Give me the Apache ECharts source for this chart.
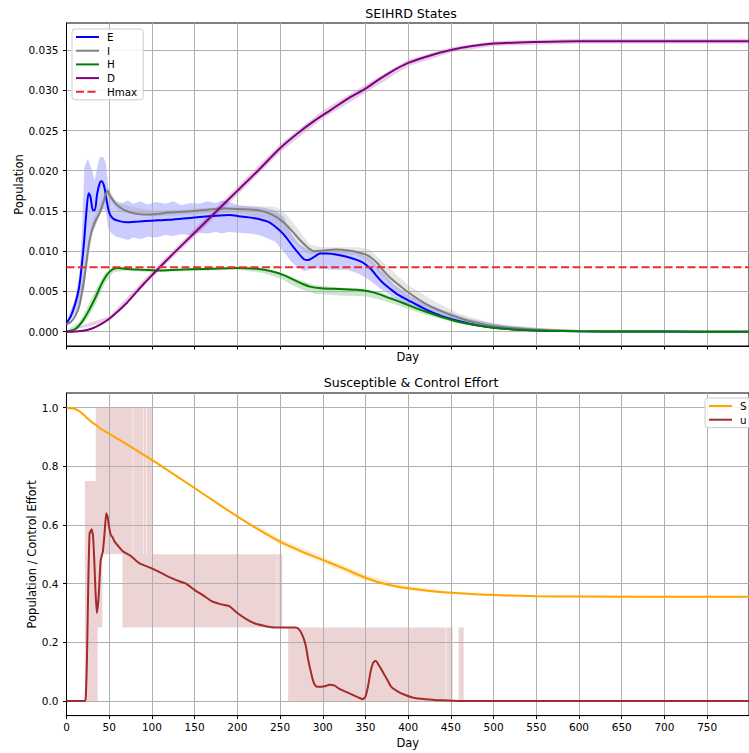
<!DOCTYPE html>
<html>
<head>
<meta charset="utf-8">
<script src="https://cdn.jsdelivr.net/npm/echarts@6/dist/echarts.min.js"></script>
<style>
  html, body { margin: 0; padding: 0; background: #ffffff; }
  #chart { width: 749px; height: 753px; }
</style>
</head>
<body>
<div id="chart"></div>
<script>
// ---------- SEIHRD states (mean trajectories) ----------
const eDays = [0, 5, 10, 15, 20, 23, 26, 28, 31, 33, 36, 39, 41, 44, 47, 50, 54, 60, 70, 85, 100, 120, 150, 175, 190, 205, 220, 235, 245, 255, 265, 272, 278, 283, 290, 297, 305, 320, 335, 345, 352, 358, 364, 370, 378, 388, 400, 420, 440, 460, 480, 500, 530, 560, 600, 650, 700, 799];
const eVals = [0.0011, 0.0019, 0.0034, 0.0057, 0.0105, 0.0145, 0.0172, 0.0168, 0.0151, 0.0151, 0.0172, 0.0185, 0.0187, 0.0181, 0.0163, 0.0148, 0.0141, 0.0138, 0.0136, 0.0137, 0.0138, 0.0139, 0.0142, 0.0144, 0.0145, 0.0143, 0.0141, 0.0137, 0.0130, 0.0120, 0.0106, 0.0097, 0.0090, 0.0089, 0.0093, 0.0097, 0.0097, 0.0095, 0.0091, 0.0087, 0.0082, 0.0076, 0.0068, 0.0061, 0.0054, 0.0046, 0.0039, 0.0028, 0.0019, 0.0013, 0.0008, 0.0005, 0.00025, 0.00012, 0.00005, 0.00002, 0.00001, 0];

const iDays = [0, 5, 10, 15, 20, 23, 26, 29, 32, 35, 39, 43, 46, 48, 51, 56, 62, 70, 80, 97, 120, 150, 186, 210, 225, 235, 245, 255, 265, 275, 283, 290, 300, 315, 330, 340, 350, 358, 364, 370, 378, 388, 400, 420, 440, 460, 480, 500, 530, 560, 600, 650, 700, 799];
const iVals = [0.0009, 0.0012, 0.0019, 0.0032, 0.0060, 0.0083, 0.0107, 0.0123, 0.0133, 0.0140, 0.0148, 0.0160, 0.0171, 0.0175, 0.0169, 0.0161, 0.0155, 0.0150, 0.0147, 0.01455, 0.0148, 0.0150, 0.0153, 0.0152, 0.0151, 0.0148, 0.0143, 0.0135, 0.0124, 0.0112, 0.0104, 0.0100, 0.0101, 0.0102, 0.0101, 0.0099, 0.0096, 0.0091, 0.0085, 0.0077, 0.0068, 0.0059, 0.0049, 0.0035, 0.0025, 0.0017, 0.0011, 0.0007, 0.0004, 0.0002, 0.00008, 0.00003, 0.00001, 0];

const hDays = [0, 5, 10, 15, 20, 25, 30, 35, 40, 45, 50, 55, 60, 70, 90, 110, 130, 160, 200, 225, 240, 255, 265, 275, 285, 298, 320, 340, 355, 365, 375, 388, 400, 420, 440, 460, 480, 500, 530, 560, 600, 650, 700, 799];
const hVals = [0, 0.0001, 0.0003, 0.0008, 0.0015, 0.0024, 0.0034, 0.0045, 0.0057, 0.0067, 0.0074, 0.0078, 0.0079, 0.0078, 0.0077, 0.0076, 0.0077, 0.0078, 0.0079, 0.0078, 0.0075, 0.0070, 0.0065, 0.0060, 0.0056, 0.0054, 0.0053, 0.0052, 0.0050, 0.0047, 0.0043, 0.0038, 0.0033, 0.0025, 0.0018, 0.0012, 0.0008, 0.0005, 0.00025, 0.00012, 0.00005, 0.00002, 0.00001, 0];

const dDays = [0, 10, 20, 30, 40, 50, 60, 70, 80, 90, 100, 110, 125, 150, 175, 200, 225, 250, 270, 290, 310, 330, 350, 365, 380, 400, 425, 450, 475, 500, 550, 600, 700, 799];
const dVals = [0, 0.00003, 0.00012, 0.0004, 0.0009, 0.0016, 0.0025, 0.0035, 0.0047, 0.0059, 0.0070, 0.0081, 0.0097, 0.0123, 0.0149, 0.0175, 0.0201, 0.0228, 0.0246, 0.0262, 0.0276, 0.0290, 0.0302, 0.0313, 0.0323, 0.0334, 0.0343, 0.0350, 0.0355, 0.0358, 0.0360, 0.0361, 0.0361, 0.0361];

const hmaxValue = 0.008;

// ---------- spread across runs (min / max envelopes) ----------
const eBandDays = [0, 10, 15, 18, 21, 25, 30, 33, 36, 39, 43, 46, 49, 53, 58, 65, 72, 78, 86, 95, 105, 116, 125, 135, 145, 155, 165, 175, 182, 190, 202, 215, 225, 235, 244, 254, 263, 271, 279, 290, 310, 329, 342, 352, 358, 364, 372, 384, 400, 430, 470, 520, 600, 700, 799];
const eBandHigh = [0.0013, 0.0040, 0.0070, 0.0120, 0.0205, 0.0215, 0.0200, 0.0188, 0.0205, 0.0217, 0.0217, 0.0210, 0.0178, 0.0166, 0.0162, 0.0160, 0.0163, 0.0159, 0.0162, 0.0158, 0.0161, 0.0159, 0.0162, 0.0157, 0.0160, 0.0159, 0.0162, 0.0160, 0.0163, 0.0161, 0.0157, 0.0156, 0.0155, 0.0153, 0.0151, 0.0143, 0.0122, 0.0110, 0.0104, 0.0101, 0.0101, 0.0101, 0.0098, 0.0093, 0.0088, 0.0081, 0.0072, 0.0058, 0.0046, 0.0031, 0.0016, 0.0007, 0.0001, 0.00002, 0];
const eBandLow = [0.0008, 0.0022, 0.0035, 0.0045, 0.0055, 0.0095, 0.0125, 0.0130, 0.0138, 0.0146, 0.0152, 0.0150, 0.0128, 0.0122, 0.0118, 0.0116, 0.0114, 0.0117, 0.0115, 0.0118, 0.0117, 0.0120, 0.0119, 0.0121, 0.0120, 0.0123, 0.0122, 0.0124, 0.0122, 0.0124, 0.0123, 0.0122, 0.0120, 0.0116, 0.0112, 0.0100, 0.0087, 0.0080, 0.0075, 0.0079, 0.0077, 0.0077, 0.0072, 0.0066, 0.0061, 0.0056, 0.0050, 0.0042, 0.0034, 0.0022, 0.0011, 0.0004, 0.0001, 0.00001, 0];

const iBandDays = [0, 20, 30, 45, 48, 60, 100, 200, 235, 245, 255, 265, 275, 285, 300, 340, 355, 370, 385, 400, 430, 460, 500, 550, 600, 799];
const iBandHigh = [0.0011, 0.0068, 0.0135, 0.0174, 0.0180, 0.0159, 0.0150, 0.0156, 0.0156, 0.0155, 0.0149, 0.0136, 0.0122, 0.0108, 0.0105, 0.0105, 0.0102, 0.0087, 0.0072, 0.0058, 0.0038, 0.0022, 0.0010, 0.0005, 0.0002, 0];
const iBandLow = [0.0007, 0.0052, 0.0119, 0.0162, 0.0170, 0.0151, 0.0143, 0.0148, 0.0140, 0.0131, 0.0121, 0.0112, 0.0102, 0.0096, 0.0097, 0.0095, 0.0086, 0.0067, 0.0052, 0.0040, 0.0024, 0.0012, 0.0004, 0.0001, 0.00003, 0];

const hBandDays = [0, 15, 25, 35, 45, 55, 70, 100, 200, 230, 250, 270, 290, 320, 350, 370, 390, 420, 460, 500, 560, 799];
const hBandHigh = [0.0001, 0.0012, 0.0032, 0.0054, 0.0073, 0.0080, 0.0079, 0.0077, 0.0080, 0.0078, 0.0074, 0.0065, 0.0058, 0.0055, 0.0053, 0.0048, 0.0040, 0.0028, 0.0014, 0.0006, 0.0002, 0];
const hBandLow = [0, 0.0005, 0.0017, 0.0036, 0.0060, 0.0074, 0.0076, 0.0074, 0.0077, 0.0073, 0.0066, 0.0055, 0.0047, 0.0045, 0.0044, 0.0039, 0.0032, 0.0021, 0.0010, 0.0004, 0.0001, 0];

const dBandDays = [0, 50, 100, 150, 200, 250, 300, 350, 400, 450, 500, 600, 799];
const dBandHigh = [0.0001, 0.0019, 0.0075, 0.0128, 0.0180, 0.0233, 0.0275, 0.0307, 0.0338, 0.0353, 0.0361, 0.0364, 0.0364];
const dBandLow = [0, 0.0013, 0.0067, 0.0118, 0.0170, 0.0223, 0.0265, 0.0297, 0.0330, 0.0347, 0.0355, 0.0358, 0.0358];

// ---------- susceptible fraction and control effort ----------
const sDays = [0, 8, 15, 20, 25, 30, 35, 40, 50, 75, 100, 125, 150, 175, 200, 225, 250, 275, 300, 325, 350, 375, 400, 425, 450, 500, 550, 600, 700, 799];
const sVals = [1.000, 0.997, 0.988, 0.976, 0.962, 0.950, 0.940, 0.928, 0.911, 0.867, 0.822, 0.774, 0.726, 0.677, 0.629, 0.584, 0.543, 0.510, 0.481, 0.451, 0.420, 0.397, 0.384, 0.375, 0.369, 0.361, 0.357, 0.356, 0.355, 0.355];
const sBandDays = [0, 100, 200, 250, 300, 350, 400, 450, 550, 799];
const sBandHigh = [1.0, 0.826, 0.634, 0.553, 0.492, 0.430, 0.391, 0.373, 0.360, 0.358];
const sBandLow = [1.0, 0.818, 0.624, 0.533, 0.470, 0.410, 0.377, 0.365, 0.354, 0.352];

const uDays = [0, 21, 22.4, 24, 25.5, 27, 29.4, 31, 32.5, 34, 35.6, 37.5, 40, 42.6, 44.5, 46.5, 48, 50, 52, 54, 56, 60, 66, 75, 85, 100, 115, 130, 140, 150, 160, 170, 180, 190, 200, 210, 220, 230, 240, 250, 260, 268, 272, 276, 280, 283, 286, 289, 292, 296, 302, 308, 314, 320, 328, 337, 343, 347, 350, 353, 356, 359, 362, 365, 370, 375, 380, 388, 395, 405, 420, 440, 460, 480, 799];
const uVals = [0, 0, 0.005, 0.15, 0.40, 0.57, 0.585, 0.565, 0.48, 0.37, 0.30, 0.35, 0.48, 0.51, 0.57, 0.64, 0.63, 0.59, 0.565, 0.558, 0.545, 0.53, 0.51, 0.495, 0.47, 0.452, 0.43, 0.41, 0.40, 0.378, 0.36, 0.34, 0.33, 0.324, 0.30, 0.28, 0.265, 0.257, 0.251, 0.25, 0.25, 0.25, 0.245, 0.225, 0.19, 0.14, 0.10, 0.066, 0.05, 0.048, 0.05, 0.055, 0.052, 0.04, 0.03, 0.018, 0.01, 0.006, 0.015, 0.05, 0.10, 0.13, 0.137, 0.125, 0.10, 0.075, 0.049, 0.032, 0.022, 0.012, 0.006, 0.002, 0, 0, 0];

// envelope of the control effort (piecewise constant levels)
const uBandDays = [0, 21.5, 21.5, 34.3, 34.3, 36.5, 36.5, 42, 42, 65.5, 65.5, 77.6, 77.6, 78.2, 78.2, 89.6, 89.6, 90.2, 90.2, 93.6, 93.6, 94.2, 94.2, 100, 100, 246, 246, 246.6, 246.6, 252.7, 252.7, 259.5, 259.5, 444, 444, 444.6, 444.6, 452, 452, 459, 459, 465, 465, 799];
const uBandHigh = [0, 0, 0.75, 0.75, 1.0, 1.0, 1.0, 1.0, 1.0, 1.0, 1.0, 1.0, 0.5, 0.5, 1.0, 1.0, 0.5, 0.5, 1.0, 1.0, 0.5, 0.5, 1.0, 1.0, 0.5, 0.5, 0.25, 0.25, 0.5, 0.5, 0.25, 0.25, 0.25, 0.25, 0, 0, 0.25, 0.25, 0, 0, 0.25, 0.25, 0, 0];
const uBandLow = [0, 0, 0, 0, 0, 0, 0.25, 0.25, 0.5, 0.5, 0.25, 0.25, 0.25, 0.25, 0.25, 0.25, 0.25, 0.25, 0.25, 0.25, 0.25, 0.25, 0.25, 0.25, 0.25, 0.25, 0.25, 0.25, 0.25, 0.25, 0.25, 0.25, 0, 0, 0, 0, 0, 0, 0, 0, 0, 0, 0, 0];

// ---------- tick positions ----------
const statesTicks = [0, 0.005, 0.010, 0.015, 0.020, 0.025, 0.030, 0.035];
const effortTicks = [0, 0.2, 0.4, 0.6, 0.8, 1.0];

// ---------- drawing ----------
const FONT = 'DejaVu Sans';
const DAY_MAX = 799;

function pairs(xs, ys) { return xs.map((x, i) => [x, ys[i]]); }

function lineSeries(name, gi, xs, ys, color, extra) {
  return Object.assign({
    type: 'line', name: name, xAxisIndex: gi, yAxisIndex: gi,
    data: pairs(xs, ys), symbol: 'none', showSymbol: false,
    smooth: 0.3,
    lineStyle: { color: color, width: 2 }, itemStyle: { color: color },
    z: 3, silent: true
  }, extra || {});
}

// shaded envelope between low and high, mapped through the axis scales
function bandSeries(name, gi, xs, low, high, fill) {
  return {
    type: 'custom', name: name, xAxisIndex: gi, yAxisIndex: gi, z: -1, silent: true,
    data: xs.map((x, i) => [x, low[i], high[i]]),
    encode: { x: 0, y: [1, 2] },
    renderItem: function (params, api) {
      if (params.dataIndex !== 0) return null;
      const upper = xs.map((x, i) => api.coord([x, high[i]]));
      const lower = xs.map((x, i) => api.coord([x, low[i]])).reverse();
      return { type: 'polygon', shape: { points: upper.concat(lower) }, style: { fill: fill } };
    }
  };
}

function xAxisCfg(gi, showLabels, nameGap) {
  return {
    type: 'value', gridIndex: gi, min: 0, max: DAY_MAX, interval: 50,
    name: 'Day', nameLocation: 'middle', nameGap: nameGap, nameMoveOverlap: false,
    nameTextStyle: { fontFamily: FONT, fontSize: 11.5, color: '#000' },
    axisLine: { show: true, onZero: false, lineStyle: { color: '#000', width: 1 } },
    axisTick: { show: true, inside: false, length: 3.5, lineStyle: { color: '#000', width: 1 } },
    axisLabel: { show: showLabels, fontFamily: FONT, fontSize: 10.5, color: '#000', margin: 6, showMaxLabel: false },
    splitLine: { show: true, lineStyle: { color: '#b0b0b0', width: 1 } }
  };
}

function yAxisCfg(gi, min, max, ticks, digits, name, nameGap) {
  return {
    type: 'value', gridIndex: gi, min: min, max: max,
    name: name, nameLocation: 'middle', nameGap: nameGap, nameMoveOverlap: false,
    nameTextStyle: { fontFamily: FONT, fontSize: 11.5, color: '#000' },
    axisLine: { show: true, onZero: false, lineStyle: { color: '#000', width: 1 } },
    axisTick: { show: true, inside: false, length: 3.5, customValues: ticks, lineStyle: { color: '#000', width: 1 } },
    axisLabel: {
      fontFamily: FONT, fontSize: 10.5, color: '#000', margin: 8,
      customValues: ticks,
      formatter: v => v.toFixed(digits)
    },
    splitLine: { show: true, lineStyle: { color: '#b0b0b0', width: 1 } }
  };
}

function legendCfg(names, left, top) {
  return {
    data: names, orient: 'vertical', left: left, top: top,
    itemWidth: 23, itemHeight: 12, itemGap: 3.7,
    padding: [3, 6, 3, 3],
    backgroundColor: 'rgba(255,255,255,0.85)', borderColor: '#cccccc', borderWidth: 1, borderRadius: 3,
    itemStyle: { opacity: 0 },
    textStyle: { fontFamily: FONT, fontSize: 10.3, color: '#000', padding: [0, 0, 0, 3] },
    selectedMode: false
  };
}

const chart = echarts.init(document.getElementById('chart'), null, { renderer: 'svg' });

chart.setOption({
  animation: false,
  backgroundColor: '#ffffff',
  grid: [
    { left: 66.5, top: 23, width: 688, height: 323, show: true, borderColor: '#000', borderWidth: 1, backgroundColor: 'transparent' },
    { left: 66.5, top: 393, width: 688, height: 322.6, show: true, borderColor: '#000', borderWidth: 1, backgroundColor: 'transparent' }
  ],
  xAxis: [xAxisCfg(0, false, 5), xAxisCfg(1, true, 21)],
  yAxis: [
    yAxisCfg(0, -0.00178, 0.03836, statesTicks, 3, 'Population', 42),
    yAxisCfg(1, -0.05, 1.05, effortTicks, 1, 'Population / Control Effort', 28.5)
  ],
  legend: [
    legendCfg(['E', 'I', 'H', 'D', 'Hmax'], 72, 29),
    legendCfg(['S', 'u'], 705, 398)
  ],
  graphic: [
    { type: 'text', x: 411, y: 13, style: { text: 'SEIHRD States', align: 'center', verticalAlign: 'middle', font: '12.6px "DejaVu Sans"', fill: '#000' } },
    { type: 'text', x: 411, y: 382, style: { text: 'Susceptible & Control Effort', align: 'center', verticalAlign: 'middle', font: '12.6px "DejaVu Sans"', fill: '#000' } }
  ],
  series: [
    bandSeries('E range', 0, eBandDays, eBandLow, eBandHigh, 'rgba(0,0,255,0.2)'),
    bandSeries('I range', 0, iBandDays, iBandLow, iBandHigh, 'rgba(128,128,128,0.2)'),
    bandSeries('H range', 0, hBandDays, hBandLow, hBandHigh, 'rgba(0,128,0,0.2)'),
    bandSeries('D range', 0, dBandDays, dBandLow, dBandHigh, 'rgba(128,0,128,0.2)'),
    lineSeries('E', 0, eDays, eVals, '#0000ff'),
    lineSeries('I', 0, iDays, iVals, '#808080'),
    lineSeries('H', 0, hDays, hVals, '#008000'),
    lineSeries('D', 0, dDays, dVals, '#800080'),
    lineSeries('Hmax', 0, [0, DAY_MAX], [hmaxValue, hmaxValue], '#ee2b2b', {
      smooth: false, lineStyle: { color: '#ee2b2b', width: 2, type: [8, 3.5] }
    }),
    bandSeries('S range', 1, sBandDays, sBandLow, sBandHigh, 'rgba(255,165,0,0.2)'),
    bandSeries('u range', 1, uBandDays, uBandLow, uBandHigh, 'rgba(165,42,42,0.2)'),
    lineSeries('S', 1, sDays, sVals, '#ffa500'),
    lineSeries('u', 1, uDays, uVals, '#a52a2a', { smooth: 0.15 })
  ]
});
</script>
</body>
</html>
